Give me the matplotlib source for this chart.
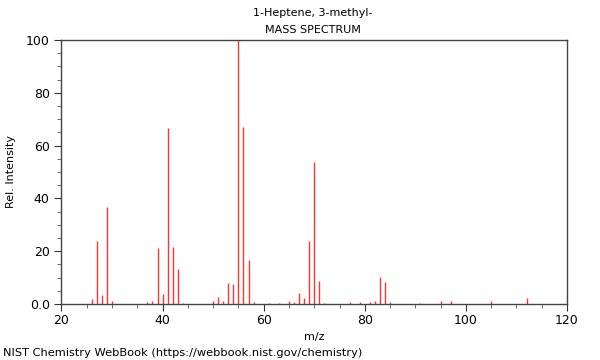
import matplotlib
matplotlib.use("Agg")
import matplotlib.pyplot as plt
from matplotlib.ticker import MultipleLocator, FixedLocator, FixedFormatter

mz = [26, 27, 28, 29, 30, 37, 38, 39, 40, 41, 42, 43, 44,
      50, 51, 52, 53, 54, 55, 56, 57, 58, 61, 63, 65, 66, 67, 68, 69, 70, 71, 72,
      77, 79, 81, 82, 83, 84, 85, 91, 95, 97, 105, 112]
intensity = [1.8, 24.0, 3.4, 36.6, 1.1, 0.6, 1.1, 21.1, 3.7, 66.7, 21.7, 13.1, 0.4,
             1.1, 2.5, 1.1, 8.1, 7.4, 100.0, 67.0, 16.7, 0.8, 0.5, 0.5, 1.1, 0.7, 4.0, 2.1, 24.0, 53.8, 8.7, 0.3,
             0.8, 0.8, 0.8, 1.0, 10.1, 8.5, 0.6, 0.3, 1.1, 1.0, 1.1, 2.3]

title1 = "1-Heptene, 3-methyl-"
title2 = "MASS SPECTRUM"
xlabel = "m/z"
ylabel = "Rel. Intensity"
footer = "NIST Chemistry WebBook (https://webbook.nist.gov/chemistry)"
yticks = [0, 20, 40, 60, 80, 100]
yticklabels = ["0.0", "20", "40", "60", "80", "100"]
xticks = [20, 40, 60, 80, 100, 120]

fig = plt.figure(figsize=(6, 3.6), dpi=100)
ax = fig.add_axes([61.5/600, 1 - 304/360, (567-61.5)/600, (304-40)/360])

ax.vlines(mz, 0, intensity, colors="#ff0000", linewidth=1.0, alpha=0.8)
ax.set_xlim(20, 120)
ax.set_ylim(0, 100)

ax.xaxis.set_major_locator(FixedLocator(xticks))
ax.xaxis.set_minor_locator(MultipleLocator(5))
ax.yaxis.set_major_locator(FixedLocator(yticks))
ax.yaxis.set_major_formatter(FixedFormatter(yticklabels))
ax.yaxis.set_minor_locator(MultipleLocator(5))

ax.tick_params(axis="both", which="major", direction="out", length=5, width=0.8,
               labelsize=9, colors="#333333", labelcolor="black", top=False, right=False)
ax.tick_params(axis="x", which="major", pad=2.5)
ax.tick_params(axis="both", which="minor", direction="out", length=3, width=0.6,
               colors="#555555", top=False, right=False)
for s in ax.spines.values():
    s.set_color("#444444")
    s.set_linewidth(1.0)

ax.set_xlabel(xlabel, fontsize=8, labelpad=3)
ax.set_ylabel(ylabel, fontsize=8, labelpad=7)

fig.text(313/600, 1 - 13/360, title1, ha="center", va="center", fontsize=8)
fig.text(313/600, 1 - 30/360, title2, ha="center", va="center", fontsize=8)
fig.text(3/600, 1 - 353/360, footer, ha="left", va="center", fontsize=8.2)

fig.savefig("out.png", dpi=100)
